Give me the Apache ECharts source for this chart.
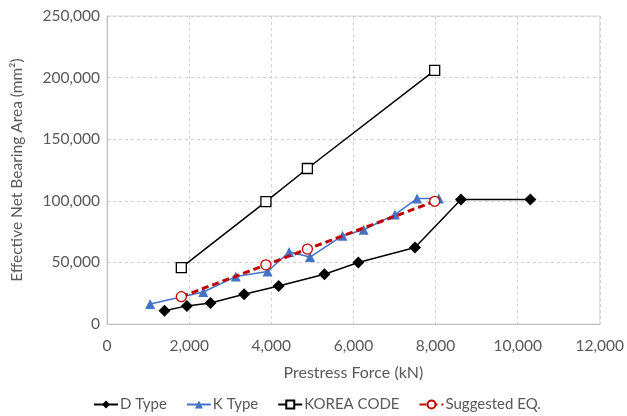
<!DOCTYPE html>
<html><head><meta charset="utf-8">
<script src="https://cdn.jsdelivr.net/npm/echarts@6/dist/echarts.min.js"></script>
<style>html,body{margin:0;padding:0;background:#fff}#c{width:627px;height:416px}</style>
</head><body><div id="c"></div>
<script>
const seriesNames = ['D Type', 'K Type', 'KOREA CODE', 'Suggested EQ.'];
const dX = [1400, 1945, 2520, 3340, 4180, 5295, 6120, 7500, 8620, 10310];
const dY = [10800, 14700, 17100, 24200, 30900, 40400, 49900, 62100, 101000, 101000];
const kX = [1050, 2345, 3135, 3910, 4435, 4945, 5735, 6250, 7010, 7550, 8080];
const kY = [16300, 26000, 38500, 42600, 58400, 54300, 71700, 76500, 88800, 101800, 101800];
const koreaX = [1810, 3870, 4880, 7980];
const koreaY = [45800, 99400, 126200, 205800];
const eqX = [1810, 3870, 4880, 7980];
const eqY = [22200, 48000, 60800, 99600];
const xTicks = {min: 0, max: 12000, interval: 2000};
const yTicks = {min: 0, max: 250000, interval: 50000};

const pair = (xs, ys) => xs.map((x, i) => [x, ys[i]]);
const fmt = v => v.toLocaleString('en-US');
const FONT = 'Lato';
const TXT = '#595959';

const chart = echarts.init(document.getElementById('c'), null, {renderer: 'canvas'});
chart.setOption({
  animation: false,
  textStyle: {fontFamily: FONT},
  grid: {left: 107, right: 23, top: 16, bottom: 92, containLabel: false,
         show: true, borderColor: '#d9d9d9', borderWidth: 1, backgroundColor: 'transparent'},
  legend: {
    top: 392, left: 88,
    itemWidth: 24, itemHeight: 10, itemGap: 19,
    textStyle: {fontFamily: FONT, fontSize: 15, color: TXT, padding: [0, 0, 0, -3]},
    data: seriesNames
  },
  xAxis: {
    type: 'value', min: xTicks.min, max: xTicks.max, interval: xTicks.interval,
    name: 'Prestress Force (kN)', nameLocation: 'middle', nameGap: 41,
    nameTextStyle: {fontFamily: FONT, fontSize: 16, color: TXT},
    axisLine: {lineStyle: {color: '#bfbfbf', width: 1}},
    axisTick: {show: false},
    axisLabel: {formatter: fmt, fontFamily: FONT, fontSize: 15.5, color: TXT, margin: 14},
    splitLine: {show: true, lineStyle: {color: '#d0d0d0', type: [3, 3]}}
  },
  yAxis: {
    type: 'value', min: yTicks.min, max: yTicks.max, interval: yTicks.interval,
    name: 'Effective Net Bearing Area (mm²)', nameLocation: 'middle', nameGap: 82, nameRotate: 90,
    nameTextStyle: {fontFamily: FONT, fontSize: 15.5, color: TXT},
    axisLine: {show: true, lineStyle: {color: '#bfbfbf', width: 1}},
    axisTick: {show: false},
    axisLabel: {formatter: fmt, fontFamily: FONT, fontSize: 15.5, color: TXT, margin: 7},
    splitLine: {show: true, lineStyle: {color: '#d0d0d0', type: [3, 3]}}
  },
  series: [
    {
      name: seriesNames[0], type: 'line', data: pair(dX, dY),
      symbol: 'diamond', symbolSize: 12,
      itemStyle: {color: '#000000'},
      lineStyle: {color: '#000000', width: 1.5}
    },
    {
      name: seriesNames[1], type: 'line', data: pair(kX, kY),
      symbol: 'triangle', symbolSize: 10,
      itemStyle: {color: '#4472C4'},
      lineStyle: {color: '#4472C4', width: 1.5}
    },
    {
      name: seriesNames[2], type: 'line', data: pair(koreaX, koreaY),
      symbol: 'rect', symbolSize: 10,
      itemStyle: {color: '#ffffff', borderColor: '#000000', borderWidth: 1.3},
      lineStyle: {color: '#000000', width: 1.5}
    },
    {
      name: seriesNames[3], type: 'line', data: pair(eqX, eqY),
      symbol: 'circle', symbolSize: 10,
      itemStyle: {color: '#ffffff', borderColor: '#C00000', borderWidth: 1.3},
      lineStyle: {color: '#C00000', width: 3, type: [7, 4]},
      z: 5
    }
  ]
});
</script></body></html>
